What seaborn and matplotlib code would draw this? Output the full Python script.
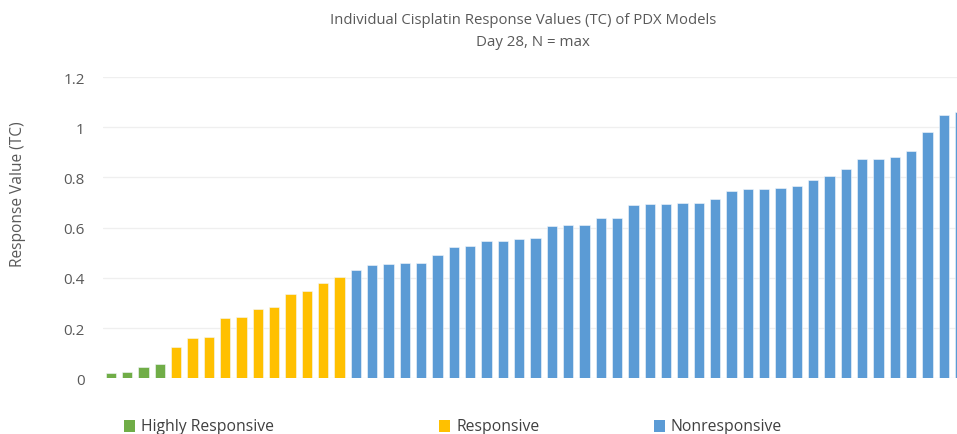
import matplotlib
matplotlib.use("Agg")
import matplotlib.pyplot as plt
import seaborn as sns
import pandas as pd
from matplotlib.patches import Rectangle

# ---- data ----
highly_responsive = [0.020, 0.024, 0.044, 0.057]
responsive = [0.126, 0.161, 0.164, 0.240, 0.244, 0.275, 0.285, 0.336, 0.348, 0.380, 0.402]
nonresponsive = [0.430, 0.451, 0.454, 0.461, 0.461, 0.490, 0.524, 0.528, 0.545, 0.545,
                 0.555, 0.560, 0.605, 0.610, 0.610, 0.640, 0.640, 0.689, 0.693, 0.693,
                 0.697, 0.699, 0.716, 0.745, 0.752, 0.755, 0.756, 0.764, 0.789, 0.805,
                 0.834, 0.874, 0.874, 0.883, 0.907, 0.982, 1.049, 1.062]
categories = ["Highly Responsive", "Responsive", "Nonresponsive"]
colors = ["#70AD47", "#FFC000", "#5B9BD5"]
yticks = [0, 0.2, 0.4, 0.6, 0.8, 1.0, 1.2]
ytick_labels = ["0", "0.2", "0.4", "0.6", "0.8", "1", "1.2"]
title_line1 = "Individual Cisplatin Response Values (TC) of PDX Models"
title_line2 = "Day 28, N = max"
ylabel = "Response Value (TC)"

values = highly_responsive + responsive + nonresponsive
groups = ([categories[0]] * len(highly_responsive) + [categories[1]] * len(responsive)
          + [categories[2]] * len(nonresponsive))
df = pd.DataFrame({"model": range(len(values)), "value": values, "group": groups})

sns.set_theme(style="white")
plt.rcParams["font.family"] = ["Open Sans", "DejaVu Sans"]
text_color = "#595959"

W, H = 957, 435
fig = plt.figure(figsize=(W / 100, H / 100), dpi=100)
left_px, right_px, top_px, bottom_px = 102.8, 957, 78, 379.3
ax = fig.add_axes([left_px / W, 1 - bottom_px / H, (right_px - left_px) / W, (bottom_px - top_px) / H])

sns.barplot(data=df, x="model", y="value", hue="group", hue_order=categories,
            palette=dict(zip(categories, colors)), dodge=False, width=0.63,
            legend=False, ax=ax, edgecolor="#F4F8FC", linewidth=0.4, saturation=1)

pitch = 16.33
ax.set_xlim(-0.5, -0.5 + (right_px - left_px) / pitch)
ax.set_ylim(0, 1.2)
ax.set_yticks(yticks)
ax.set_yticklabels(ytick_labels, color=text_color, fontsize=11)
ax.set_xticks([])
ax.set_xlabel("")
ax.set_ylabel("")
ax.tick_params(axis="y", length=0, pad=13)
ax.yaxis.grid(True, color="#EFEFEF", linewidth=0.9)
ax.set_axisbelow(True)
for s in ax.spines.values():
    s.set_visible(False)

fig.text(523 / W, 1 - 20 / H, title_line1, ha="center", va="center", color=text_color, fontsize=10.7)
fig.text(533 / W, 1 - 42 / H, title_line2, ha="center", va="center", color=text_color, fontsize=10.8)
fig.text(18 / W, 1 - 194 / H, ylabel, ha="center", va="center", rotation=90, color=text_color, fontsize=11.2)

# legend
leg_items = [(124, 141), (439, 457), (654, 671)]
for (sx, tx), cat, col in zip(leg_items, categories, colors):
    fig.patches.append(Rectangle((sx / W, 1 - 433 / H), 11 / W, 12 / H, transform=fig.transFigure,
                                 facecolor=col, edgecolor="none"))
    fig.text(tx / W, 1 - 427 / H, cat, ha="left", va="center", color="#404040", fontsize=11.3)

fig.savefig("out.png", dpi=100)
